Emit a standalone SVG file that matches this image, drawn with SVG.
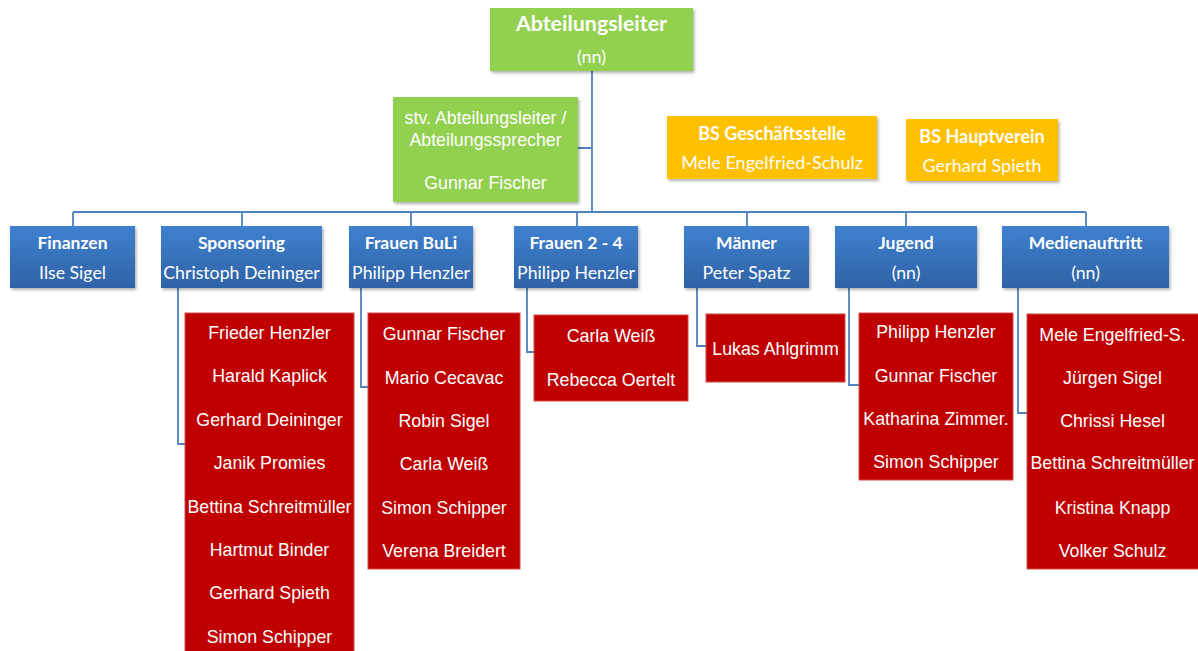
<svg xmlns="http://www.w3.org/2000/svg" width="1198" height="651" viewBox="0 0 1198 651">
<style>
.conn{fill:none;stroke:#4f81bd;stroke-width:1.8}
.green{fill:#92d050}
.orange{fill:#ffc000}
.red{fill:#c00000;stroke:#d44a4a;stroke-width:1}
.blue{fill:url(#bg)}
text{fill:#ffffff;text-anchor:middle;dominant-baseline:central}
.cal{font-family:Lato,"Open Sans",sans-serif;font-size:17.7px}
.calb{font-family:Lato,"Open Sans",sans-serif;font-size:17.5px;font-weight:bold}
.big{font-size:18px}
.ar{font-family:"Liberation Sans",Arial,sans-serif;font-size:17.8px}
</style>
<defs>
<linearGradient id="bg" x1="0" y1="0" x2="0" y2="1">
<stop offset="0" stop-color="#3f80cf"/>
<stop offset="1" stop-color="#2f63a6"/>
</linearGradient>
<filter id="sh" x="-10%" y="-10%" width="130%" height="140%">
<feDropShadow dx="1.5" dy="2" stdDeviation="1.5" flood-color="#000" flood-opacity="0.3"/>
</filter>
</defs>
<rect width="1198" height="651" fill="#ffffff"/>
<g id="connectors">
<path class="conn" d="M592 71V212M578 148H592M73 212H1086M73 212V226M242 212V226M411 212V226M577 212V226M747 212V226M906 212V226M1086 212V226"/>
<path class="conn" d="M178 288V444H185M361 288V387H368M527 288V352H534M697 288V346H706M849 288V385H859M1018 288V413H1027"/>
</g>
<g id="abteilungsleiter">
<rect class="green" x="490" y="8" width="203" height="63" filter="url(#sh)"/>
<text class="calb" x="591.5" y="23" style="font-size:21.4px">Abteilungsleiter</text>
<text class="cal" x="591.5" y="56" style="font-size:18px">(nn)</text>
</g>
<g id="stv">
<rect class="green" x="393" y="97" width="185" height="105" filter="url(#sh)"/>
<text class="ar" x="485.5" y="118">stv. Abteilungsleiter /</text>
<text class="ar" x="485.5" y="140">Abteilungssprecher</text>
<text class="ar" x="485.5" y="183">Gunnar Fischer</text>
</g>
<g id="geschaeftsstelle">
<rect class="orange" x="667" y="116" width="210" height="63" filter="url(#sh)"/>
<text class="calb big" x="772" y="133">BS Geschäftsstelle</text>
<text class="cal big" x="772" y="162">Mele Engelfried-Schulz</text>
</g>
<g id="hauptverein">
<rect class="orange" x="906" y="119" width="152" height="62" filter="url(#sh)"/>
<text class="calb big" x="982" y="136">BS Hauptverein</text>
<text class="cal big" x="982" y="165">Gerhard Spieth</text>
</g>
<g id="finanzen">
<rect class="blue" x="10" y="226" width="125" height="62" filter="url(#sh)"/>
<text class="calb" x="72.5" y="242">Finanzen</text>
<text class="cal" x="72.5" y="272">Ilse Sigel</text>
</g>
<g id="sponsoring">
<rect class="blue" x="161" y="226" width="161" height="62" filter="url(#sh)"/>
<text class="calb" x="241.5" y="242">Sponsoring</text>
<text class="cal" x="241.5" y="272">Christoph Deininger</text>
</g>
<g id="frauen-buli">
<rect class="blue" x="349" y="226" width="124" height="62" filter="url(#sh)"/>
<text class="calb" x="411" y="242">Frauen BuLi</text>
<text class="cal" x="411" y="272">Philipp Henzler</text>
</g>
<g id="frauen-2-4">
<rect class="blue" x="514" y="226" width="124" height="62" filter="url(#sh)"/>
<text class="calb" x="576" y="242">Frauen 2 - 4</text>
<text class="cal" x="576" y="272">Philipp Henzler</text>
</g>
<g id="maenner">
<rect class="blue" x="684" y="226" width="125" height="62" filter="url(#sh)"/>
<text class="calb" x="746.5" y="242">Männer</text>
<text class="cal" x="746.5" y="272">Peter Spatz</text>
</g>
<g id="jugend">
<rect class="blue" x="835" y="226" width="142" height="62" filter="url(#sh)"/>
<text class="calb" x="906" y="242">Jugend</text>
<text class="cal" x="906" y="272">(nn)</text>
</g>
<g id="medienauftritt">
<rect class="blue" x="1002" y="226" width="167" height="62" filter="url(#sh)"/>
<text class="calb" x="1085.5" y="242">Medienauftritt</text>
<text class="cal" x="1085.5" y="272">(nn)</text>
</g>
<g id="sponsoring-team">
<rect class="red" x="185" y="313" width="169" height="345"/>
<text class="ar" x="269.5" y="333">Frieder Henzler</text>
<text class="ar" x="269.5" y="376.4">Harald Kaplick</text>
<text class="ar" x="269.5" y="419.8">Gerhard Deininger</text>
<text class="ar" x="269.5" y="463.2">Janik Promies</text>
<text class="ar" x="269.5" y="506.6">Bettina Schreitmüller</text>
<text class="ar" x="269.5" y="550">Hartmut Binder</text>
<text class="ar" x="269.5" y="593.4">Gerhard Spieth</text>
<text class="ar" x="269.5" y="636.8">Simon Schipper</text>
</g>
<g id="buli-team">
<rect class="red" x="368" y="313" width="152" height="256"/>
<text class="ar" x="444" y="334">Gunnar Fischer</text>
<text class="ar" x="444" y="377.5">Mario Cecavac</text>
<text class="ar" x="444" y="421">Robin Sigel</text>
<text class="ar" x="444" y="464">Carla Weiß</text>
<text class="ar" x="444" y="508">Simon Schipper</text>
<text class="ar" x="444" y="551">Verena Breidert</text>
</g>
<g id="frauen24-team">
<rect class="red" x="534" y="315" width="154" height="86"/>
<text class="ar" x="611" y="336">Carla Weiß</text>
<text class="ar" x="611" y="380">Rebecca Oertelt</text>
</g>
<g id="maenner-team">
<rect class="red" x="706" y="314" width="139" height="68"/>
<text class="ar" x="775.5" y="349">Lukas Ahlgrimm</text>
</g>
<g id="jugend-team">
<rect class="red" x="859" y="313" width="154" height="167"/>
<text class="ar" x="936" y="332">Philipp Henzler</text>
<text class="ar" x="936" y="376">Gunnar Fischer</text>
<text class="ar" x="936" y="419">Katharina Zimmer.</text>
<text class="ar" x="936" y="462">Simon Schipper</text>
</g>
<g id="medien-team">
<rect class="red" x="1027" y="314" width="175" height="255"/>
<text class="ar" x="1112.5" y="335">Mele Engelfried-S.</text>
<text class="ar" x="1112.5" y="378">Jürgen Sigel</text>
<text class="ar" x="1112.5" y="421">Chrissi Hesel</text>
<text class="ar" x="1112.5" y="463">Bettina Schreitmüller</text>
<text class="ar" x="1112.5" y="508">Kristina Knapp</text>
<text class="ar" x="1112.5" y="551">Volker Schulz</text>
</g>
</svg>
